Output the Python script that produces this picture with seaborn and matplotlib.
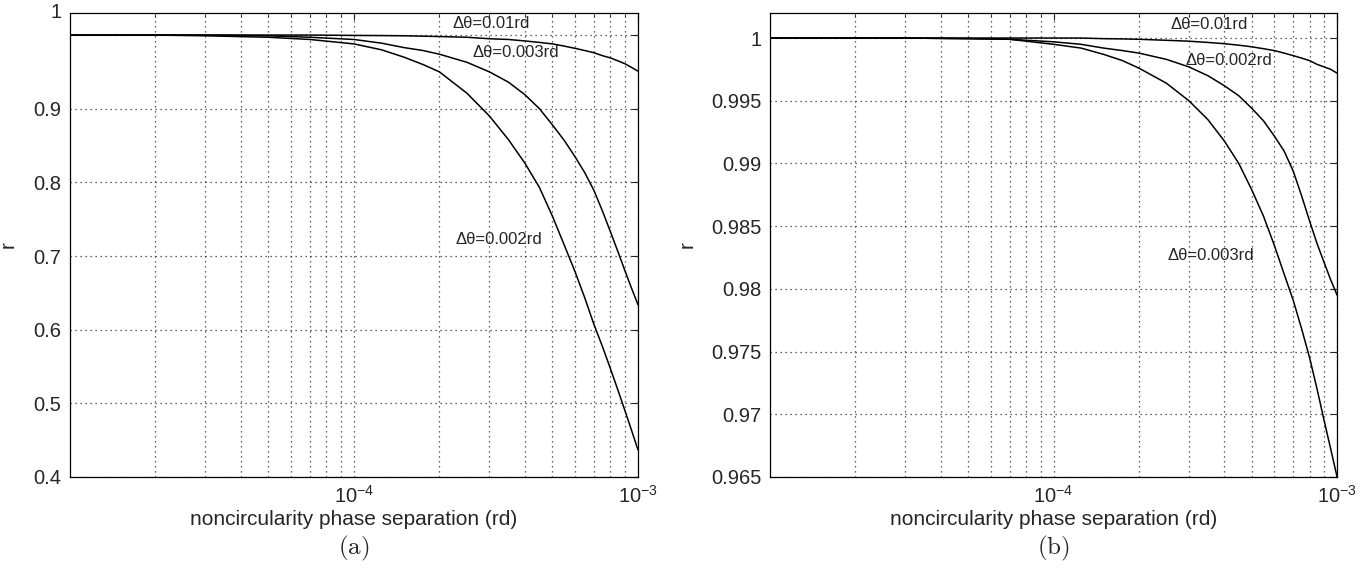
import matplotlib
matplotlib.use("Agg")
import pandas as pd
import matplotlib.pyplot as plt
import seaborn as sns
from matplotlib.ticker import FixedLocator, LogLocator, NullFormatter, LogFormatterSciNotation

# ---- data ----
x_sep = [1e-5, 2e-5, 3e-5, 5e-5, 7e-5, 1e-4, 1.25e-4, 1.5e-4, 1.75e-4, 2e-4, 2.5e-4, 3e-4,
         3.5e-4, 4e-4, 4.5e-4, 5e-4, 5.5e-4, 6e-4, 6.5e-4, 7e-4, 7.5e-4, 8e-4, 8.5e-4,
         9e-4, 9.5e-4, 1e-3]

# panel (a)
r_a_001 = [1.0, 1.0, 1.0, 1.0, 1.0, 0.9995, 0.9993, 0.999, 0.9985, 0.998, 0.997, 0.995,
           0.994, 0.992, 0.990, 0.988, 0.985, 0.982, 0.979, 0.976, 0.972, 0.969, 0.965,
           0.961, 0.956, 0.951]
r_a_0003 = [1.0, 1.0, 1.0, 0.999, 0.997, 0.994, 0.989, 0.983, 0.979, 0.974, 0.963, 0.950,
            0.936, 0.919, 0.900, 0.878, 0.857, 0.835, 0.813, 0.789, 0.761, 0.733, 0.706,
            0.680, 0.656, 0.634]
r_a_0002 = [1.0, 1.0, 0.999, 0.997, 0.994, 0.988, 0.980, 0.970, 0.960, 0.950, 0.921, 0.890,
            0.858, 0.826, 0.793, 0.754, 0.715, 0.679, 0.643, 0.607, 0.577, 0.547, 0.518,
            0.490, 0.463, 0.437]

# panel (b)
r_b_001 = [1.0, 1.0, 1.0, 1.0, 1.0, 1.0, 1.0, 0.99995, 0.99993, 0.9999, 0.99982, 0.99975,
           0.99965, 0.99955, 0.99943, 0.9993, 0.99915, 0.999, 0.9988, 0.9986, 0.9984, 0.9982,
           0.9979, 0.9977, 0.9975, 0.9972]
r_b_0002 = [1.0, 1.0, 1.0, 0.99995, 0.9999, 0.9997, 0.9995, 0.9992, 0.999, 0.9988, 0.9983,
            0.9977, 0.997, 0.9962, 0.9954, 0.9944, 0.9934, 0.9922, 0.991, 0.9894, 0.9874,
            0.9854, 0.9836, 0.9821, 0.9807, 0.9795]
r_b_0003 = [1.0, 1.0, 1.0, 0.99995, 0.9999, 0.9995, 0.9992, 0.9987, 0.9982, 0.9976, 0.9964,
            0.995, 0.9935, 0.9918, 0.990, 0.9879, 0.9858, 0.9835, 0.9812, 0.9791, 0.9768,
            0.9745, 0.972, 0.9695, 0.9672, 0.965]

labels_a = ["Δθ=0.01rd", "Δθ=0.003rd", "Δθ=0.002rd"]
labels_b = ["Δθ=0.01rd", "Δθ=0.002rd", "Δθ=0.003rd"]
yticks_a = [0.4, 0.5, 0.6, 0.7, 0.8, 0.9, 1.0]
yticks_b = [0.965, 0.97, 0.975, 0.98, 0.985, 0.99, 0.995, 1.0]

# ---- style ----
sns.set_style("white")
plt.rcParams["font.family"] = ["Liberation Sans", "DejaVu Sans"]
plt.rcParams["mathtext.fontset"] = "custom"
plt.rcParams["mathtext.rm"] = "Liberation Sans"
plt.rcParams["mathtext.it"] = "Liberation Sans:italic"
plt.rcParams["mathtext.default"] = "regular"

GRID = dict(ls=(0, (1, 3)), color="#333333", lw=0.9)
TICK_FS = 14.5
NOTE_FS = 12


def long_df(series, names):
    frames = [pd.DataFrame({"x": x_sep, "r": s, "curve": n}) for s, n in zip(series, names)]
    return pd.concat(frames, ignore_index=True)


def style_axis(ax, ylim, yticks, ylabels):
    ax.set_xscale("log")
    ax.set_xlim(1e-5, 1e-3)
    ax.set_ylim(*ylim)
    ax.xaxis.set_major_locator(FixedLocator([1e-4, 1e-3]))
    ax.xaxis.set_major_formatter(LogFormatterSciNotation())
    ax.xaxis.set_minor_locator(LogLocator(base=10, subs=range(2, 10), numticks=20))
    ax.xaxis.set_minor_formatter(NullFormatter())
    ax.set_yticks(yticks)
    ax.set_yticklabels(ylabels)
    ax.grid(True, which="both", axis="x", **GRID)
    ax.grid(True, which="major", axis="y", **GRID)
    ax.tick_params(which="both", direction="in", top=True, right=True, labelsize=TICK_FS, pad=6)
    ax.tick_params(which="major", length=5)
    ax.tick_params(which="minor", length=3)
    for sp in ax.spines.values():
        sp.set_color("k")
        sp.set_linewidth(0.9)
    ax.set_xlabel("noncircularity phase separation (rd)", fontsize=15)
    ax.set_ylabel("r", fontsize=15)
    ax.xaxis.set_label_coords(0.5, -0.072)


fig = plt.figure(figsize=(13.69, 5.76), dpi=100)
ax_a = fig.add_axes([0.0511, 0.1719, 0.4149, 0.8056])
ax_b = fig.add_axes([0.5625, 0.1719, 0.4142, 0.8056])

# ---- panel (a) ----
df_a = long_df([r_a_001, r_a_0003, r_a_0002], labels_a)
sns.lineplot(data=df_a, x="x", y="r", hue="curve", palette=["k"] * 3, legend=False,
             estimator=None, sort=False, lw=1.1, ax=ax_a)
style_axis(ax_a, (0.4, 1.03), yticks_a, ["0.4", "0.5", "0.6", "0.7", "0.8", "0.9", ""])
# the "1" label sits at the top of the frame in the original
ax_a.text(-0.014, 1.0, "1", transform=ax_a.transAxes, ha="right", va="center", fontsize=TICK_FS)
ax_a.yaxis.set_label_coords(-0.092, 0.5)
ax_a.text(2.23e-4, 1.0156, labels_a[0], fontsize=NOTE_FS, va="center")
ax_a.text(2.62e-4, 0.976, labels_a[1], fontsize=NOTE_FS, va="center")
ax_a.text(2.27e-4, 0.723, labels_a[2], fontsize=NOTE_FS, va="center")

# ---- panel (b) ----
df_b = long_df([r_b_001, r_b_0002, r_b_0003], labels_b)
sns.lineplot(data=df_b, x="x", y="r", hue="curve", palette=["k"] * 3, legend=False,
             estimator=None, sort=False, lw=1.1, ax=ax_b)
style_axis(ax_b, (0.965, 1.002), yticks_b, ["%g" % t for t in yticks_b])
ax_b.yaxis.set_label_coords(-0.129, 0.5)
ax_b.text(2.58e-4, 1.00104, labels_b[0], fontsize=NOTE_FS, va="center")
ax_b.text(2.91e-4, 0.99824, labels_b[1], fontsize=NOTE_FS, va="center")
ax_b.text(2.53e-4, 0.98264, labels_b[2], fontsize=NOTE_FS, va="center")

# panel captions
fig.text(0.0511 + 0.4149 / 2, 1 - 548 / 576, r"$\mathrm{(a)}$", math_fontfamily="cm",
         ha="center", va="center", fontsize=18)
fig.text(0.5625 + 0.4142 / 2, 1 - 548 / 576, r"$\mathrm{(b)}$", math_fontfamily="cm",
         ha="center", va="center", fontsize=18)

fig.savefig("out.png", dpi=100)
